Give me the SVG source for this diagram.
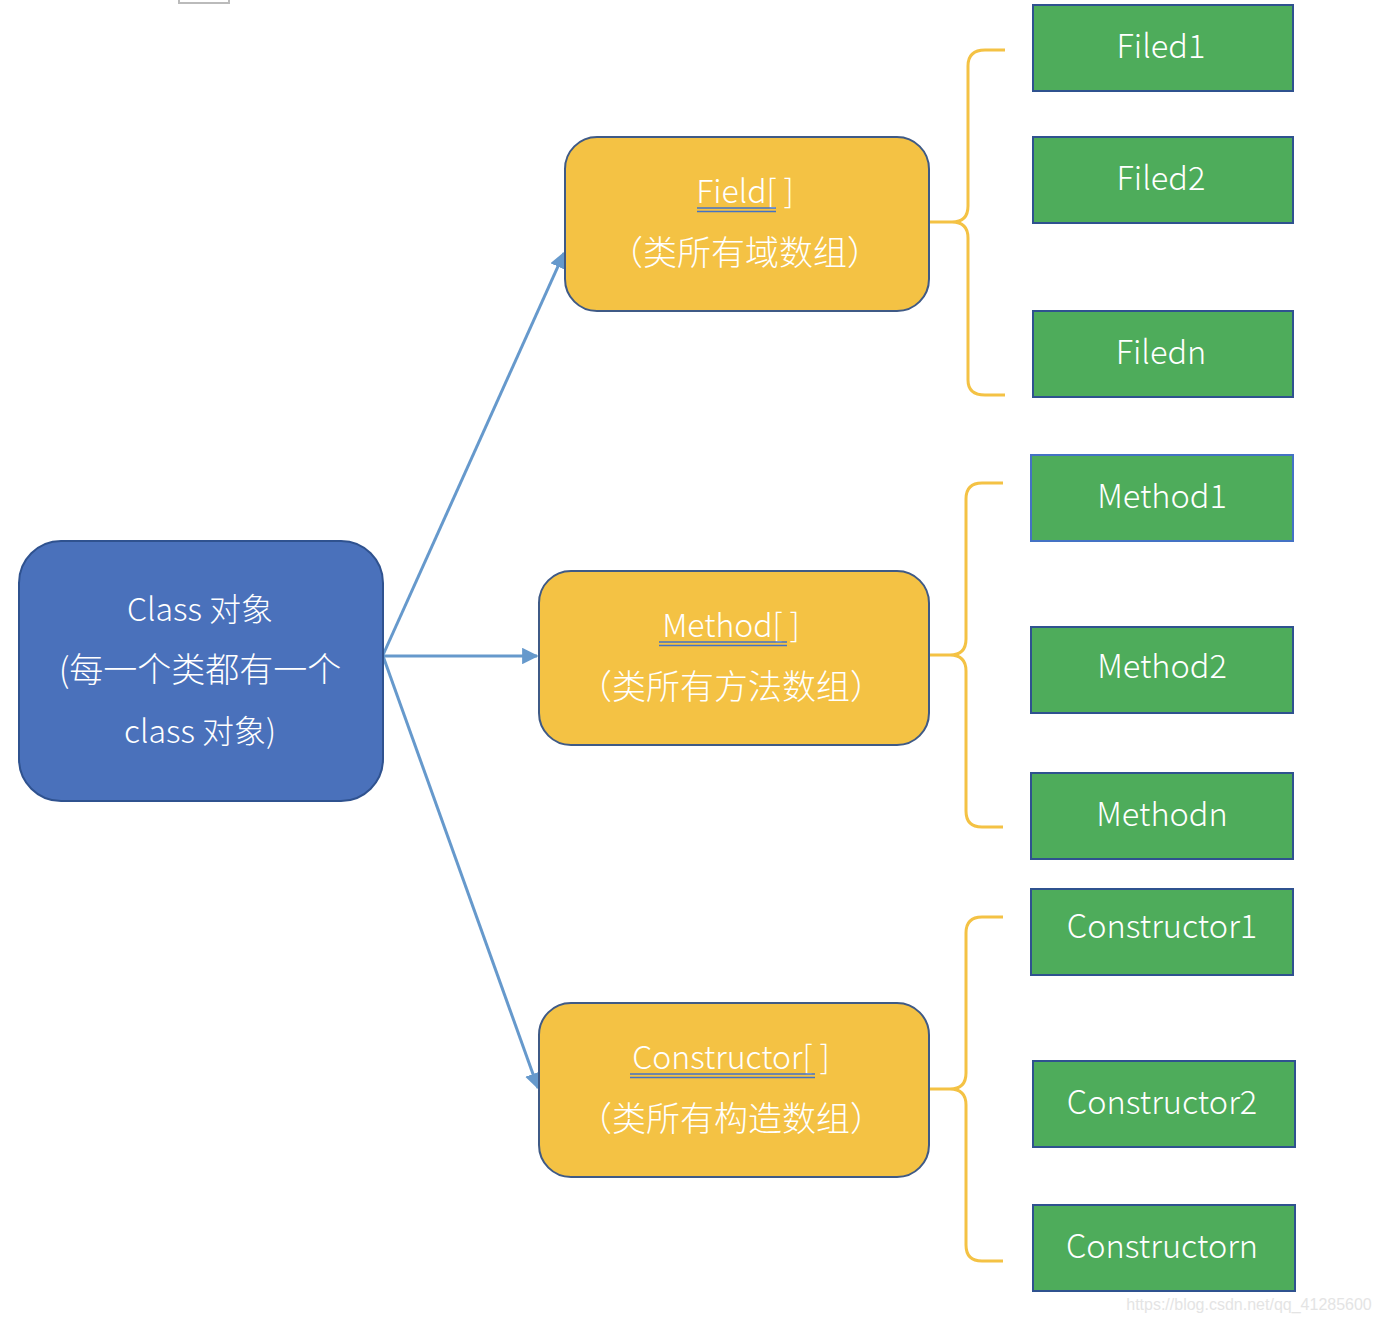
<svg xmlns="http://www.w3.org/2000/svg" width="1380" height="1322" viewBox="0 0 1380 1322">
<defs>
<style>
.t{font-family:"Noto Sans CJK SC","Noto Sans",sans-serif;fill:#fff;text-anchor:middle;font-weight:300;}
.g{font-size:32.5px;}
.blue{fill:#4A71BB;stroke:#2F528F;stroke-width:2;}
.yel{fill:#F4C244;stroke:#3F5A86;stroke-width:2;}
.grn{fill:#4EAC5B;stroke:#2F528F;stroke-width:2;}
.brace{fill:none;stroke:#F4C244;stroke-width:3;}
.arr{stroke:#6699CC;stroke-width:3;fill:none;marker-end:url(#ah);}
.ul{stroke:#4472C4;stroke-width:1.6;}
</style>
<marker id="ah" viewBox="0 0 10 10" refX="9" refY="5" markerWidth="5.5" markerHeight="5.5" orient="auto" markerUnits="strokeWidth">
<path d="M0,0 L10,5 L0,10 z" fill="#6699CC"/>
</marker>
</defs>
<rect width="1380" height="1322" fill="#fff"/>
<path d="M179,0 V3 H229 V0" fill="none" stroke="#bbb" stroke-width="2"/>

<g id="connectors">
<line class="arr" x1="383" y1="655" x2="564" y2="253"/>
<line class="arr" x1="383" y1="656" x2="537" y2="656"/>
<line class="arr" x1="383" y1="656" x2="538" y2="1088"/>
<path class="brace" d="M1005,50 H985 Q968,50 968,66 V206 Q968,222 952,222 H929 M952,222 Q968,222 968,238 V380 Q968,395 985,395 H1005"/>
<path class="brace" d="M1003,483 H982 Q966,483 966,499 V639 Q966,655 950,655 H929 M950,655 Q966,655 966,671 V811 Q966,827 982,827 H1003"/>
<path class="brace" d="M1003,917 H982 Q966,917 966,933 V1073 Q966,1089 950,1089 H929 M950,1089 Q966,1089 966,1105 V1245 Q966,1261 982,1261 H1003"/>
</g>

<g id="class-node">
<rect class="blue" x="19" y="541" width="364" height="260" rx="42"/>
<text class="t" x="200" y="621" font-size="32">Class 对象</text>
<text class="t" x="200" y="682" font-size="34">(每一个类都有一个</text>
<text class="t" x="200" y="743" font-size="32">class 对象)</text>
</g>

<g id="field-node">
<rect class="yel" x="565" y="137" width="364" height="174" rx="32"/>
<text class="t" x="745" y="203" font-size="32">Field[ ]</text>
<line class="ul" x1="697" y1="208" x2="776" y2="208"/>
<line class="ul" x1="697" y1="211.5" x2="776" y2="211.5"/>
<text class="t" x="745" y="265" font-size="34">（类所有域数组）</text>
</g>

<g id="method-node">
<rect class="yel" x="539" y="571" width="390" height="174" rx="32"/>
<text class="t" x="731" y="637" font-size="32">Method[ ]</text>
<line class="ul" x1="659" y1="642" x2="787" y2="642"/>
<line class="ul" x1="659" y1="645.5" x2="787" y2="645.5"/>
<text class="t" x="731" y="699" font-size="34">（类所有方法数组）</text>
</g>

<g id="constructor-node">
<rect class="yel" x="539" y="1003" width="390" height="174" rx="32"/>
<text class="t" x="731" y="1069" font-size="32">Constructor[ ]</text>
<line class="ul" x1="630" y1="1074" x2="815" y2="1074"/>
<line class="ul" x1="630" y1="1077.5" x2="815" y2="1077.5"/>
<text class="t" x="731" y="1131" font-size="34">（类所有构造数组）</text>
</g>

<g id="filed1"><rect class="grn" x="1033" y="5" width="260" height="86"/><text class="t g" x="1161" y="58">Filed1</text></g>
<g id="filed2"><rect class="grn" x="1033" y="137" width="260" height="86"/><text class="t g" x="1161" y="190">Filed2</text></g>
<g id="filedn"><rect class="grn" x="1033" y="311" width="260" height="86"/><text class="t g" x="1161" y="364">Filedn</text></g>
<g id="method1"><rect class="grn" x="1031" y="455" width="262" height="86" style="stroke:#4472C4"/><text class="t g" x="1162" y="508">Method1</text></g>
<g id="method2"><rect class="grn" x="1031" y="627" width="262" height="86"/><text class="t g" x="1162" y="678">Method2</text></g>
<g id="methodn"><rect class="grn" x="1031" y="773" width="262" height="86"/><text class="t g" x="1162" y="826">Methodn</text></g>
<g id="constructor1"><rect class="grn" x="1031" y="889" width="262" height="86"/><text class="t g" x="1162" y="938">Constructor1</text></g>
<g id="constructor2"><rect class="grn" x="1033" y="1061" width="262" height="86"/><text class="t g" x="1162" y="1114">Constructor2</text></g>
<g id="constructorn"><rect class="grn" x="1033" y="1205" width="262" height="86"/><text class="t g" x="1162" y="1258">Constructorn</text></g>

<text x="1249" y="1310" font-family="Liberation Sans, sans-serif" font-size="16" fill="#e4e4e4" text-anchor="middle">https://blog.csdn.net/qq_41285600</text>
</svg>
